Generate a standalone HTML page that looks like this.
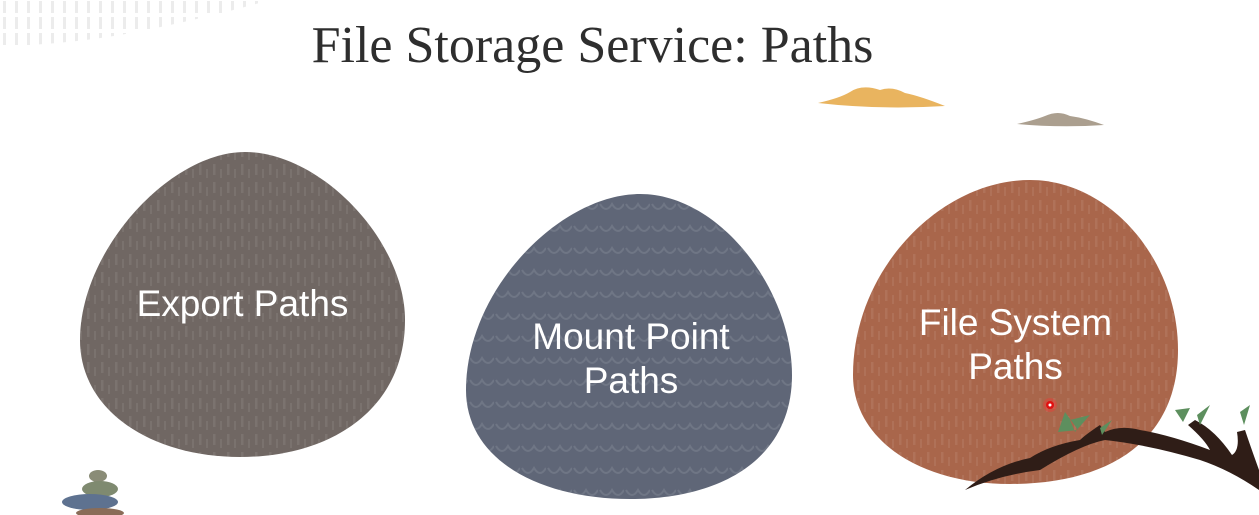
<!DOCTYPE html>
<html><head><meta charset="utf-8"><style>
html,body{margin:0;padding:0;background:#fff;}
body{width:1259px;height:515px;overflow:hidden;position:relative;font-family:"Liberation Sans","DejaVu Sans",sans-serif;}
.t{position:absolute;left:0;top:16px;width:1185px;text-align:center;font-family:"Liberation Serif",serif;font-size:52px;color:#2e2e2e;}
svg{position:absolute;left:0;top:0;}
</style></head><body>
<svg width="1259" height="515" viewBox="0 0 1259 515">
<defs>
<pattern id="dash" width="14" height="18" patternUnits="userSpaceOnUse">
<rect x="3" y="2" width="2.5" height="11" fill="#fff" opacity="0.08"/>
<rect x="10" y="7" width="2" height="9" fill="#fff" opacity="0.07"/>
</pattern>
<pattern id="wave" width="26" height="22" patternUnits="userSpaceOnUse">
<path d="M2 6 Q8 16 14 6 Q20 16 26 6" stroke="#fff" stroke-opacity="0.1" stroke-width="2" fill="none"/>
</pattern>
<pattern id="gd" width="12" height="16" patternUnits="userSpaceOnUse">
<rect x="3" y="1" width="3" height="12" fill="#ddd"/>
</pattern>
</defs>
<path d="M0 0 L270 0 Q200 20 120 35 Q60 45 0 46 Z" fill="url(#gd)" opacity="0.55"/>
<path d="M818 103 Q840 98 850 92 Q862 84 880 90 Q892 86 905 93 Q920 96 945 106 Q880 110 818 103Z" fill="#e9b45f"/>
<path d="M1017 124 Q1035 120 1045 116 Q1058 110 1070 116 Q1085 118 1104 125 Q1060 128 1017 124Z" fill="#ab9f8f"/>
<path d="M245 152 C320 152 405 240 405 320 C405 410 330 457 240 457 C150 457 80 410 80 340 C80 250 170 152 245 152Z" fill="#706763"/>
<path d="M245 152 C320 152 405 240 405 320 C405 410 330 457 240 457 C150 457 80 410 80 340 C80 250 170 152 245 152Z" fill="url(#dash)"/>
<path d="M640 194 C720 194 792 290 792 375 C792 460 720 499 630 499 C540 499 466 460 466 390 C466 290 560 194 640 194Z" fill="#5f6677"/>
<path d="M640 194 C720 194 792 290 792 375 C792 460 720 499 630 499 C540 499 466 460 466 390 C466 290 560 194 640 194Z" fill="url(#wave)"/>
<path d="M1030 180 C1110 180 1178 260 1178 350 C1178 440 1110 484 1010 484 C920 484 853 440 853 375 C853 270 940 180 1030 180Z" fill="#a9664b"/>
<path d="M1030 180 C1110 180 1178 260 1178 350 C1178 440 1110 484 1010 484 C920 484 853 440 853 375 C853 270 940 180 1030 180Z" fill="url(#dash)"/>
<path d="M965 490 Q1000 475 1040 470 Q1080 445 1105 440 Q1150 445 1200 460 Q1230 470 1259 490 L1259 470 Q1250 445 1245 430 L1237 432 Q1240 450 1232 455 Q1215 430 1195 420 L1188 425 Q1205 440 1210 450 Q1170 435 1140 430 Q1120 425 1105 432 L1100 425 Q1085 435 1080 440 Q1050 445 1030 458 Q995 465 965 490Z" fill="#2f1d17"/>
<path d="M1070 420 L1090 415 L1075 432Z M1065 412 L1058 432 L1078 430Z M1100 428 L1112 420 L1102 435Z M1175 410 L1190 408 L1183 422Z M1197 415 L1210 405 L1200 425Z M1240 412 L1250 405 L1244 425Z" fill="#5d8f5e"/>
<circle cx="1050" cy="405" r="7" fill="#ff3030" opacity="0.35"/>
<circle cx="1050" cy="405" r="4" fill="#e01010"/>
<circle cx="1050" cy="405" r="1.5" fill="#fff"/>
<ellipse cx="98" cy="476" rx="9" ry="6" fill="#8a8c77"/>
<ellipse cx="100" cy="489" rx="18" ry="8" fill="#7f8a70"/>
<ellipse cx="90" cy="502" rx="28" ry="8" fill="#5e7290"/>
<ellipse cx="100" cy="513" rx="24" ry="5" fill="#8a6c58"/>
</svg>
<div class="t">File Storage Service: Paths</div>
<div style="position:absolute;left:80px;top:283px;width:325px;text-align:center;color:#fff;font-size:37px;">Export Paths</div>
<div style="position:absolute;left:466px;top:315px;width:330px;text-align:center;color:#fff;font-size:37px;line-height:44px;">Mount Point<br>Paths</div>
<div style="position:absolute;left:853px;top:301px;width:325px;text-align:center;color:#fff;font-size:37px;line-height:44px;">File System<br>Paths</div>
</body></html>
